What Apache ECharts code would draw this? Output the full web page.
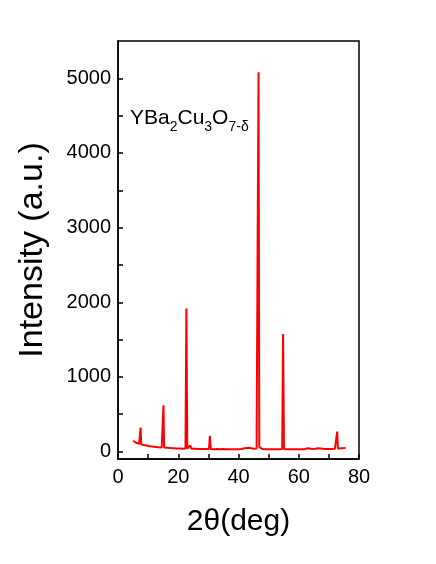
<!DOCTYPE html>
<html>
<head>
<meta charset="utf-8">
<script src="https://cdn.jsdelivr.net/npm/echarts@6/dist/echarts.min.js"></script>
<style>html,body{margin:0;padding:0;background:#fff}#c{width:436px;height:564px}</style>
</head>
<body>
<div id="c"></div>
<script>
const twoTheta = [5.0,5.5,6.0,6.5,7.0,7.3,7.5,7.7,8.5,9.5,10.5,11.5,12.0,12.5,13.5,14.5,14.9,15.1,15.3,16.5,17.5,18.5,19.5,20.5,21.5,22.4,22.7,23.0,23.6,24.0,24.3,25.0,26.0,27.0,28.0,29.0,30.2,30.5,30.8,32,33,34,35,36,37,38,39,40,41,42,42.5,43.5,44,45,46,46.4,46.65,46.9,47.3,48,49,50,51,52,53,54.5,54.8,55.1,55.6,56,57,58,59,60,61,62,63,63.5,64.5,65.5,66.5,67,68,69,70,71,72,72.5,72.75,73.0,73.5,74.5,75.5];
const intensity = [145,130,118,110,102,98,320,96,88,80,72,66,70,62,58,55,55,620,54,50,46,44,42,40,38,40,1915,40,42,80,42,36,38,34,35,33,34,210,34,32,33,31,33,31,32,30,32,31,34,45,38,50,40,38,40,60,5080,60,38,33,31,32,30,31,30,34,1575,34,30,31,30,31,30,31,30,32,45,36,34,36,45,42,36,33,35,34,36,40,268,40,42,44,46];
const xTicks = [0,20,40,60,80];
const xMinorTicks = [10,30,50,70];
const yTicks = [0,1000,2000,3000,4000,5000];
const yMinorTicks = [500,1500,2500,3500,4500];

const chart = echarts.init(document.getElementById('c'), null, {renderer:'canvas'});
const font = 'Liberation Sans, Arial, Helvetica, sans-serif';
chart.setOption({
  animation:false,
  grid:{left:118,right:77,top:41,bottom:105,show:true,borderColor:'#000',borderWidth:1.5,backgroundColor:'transparent'},
  xAxis:{type:'value',min:0,max:80,
    name:'2θ(deg)',nameLocation:'middle',nameGap:48,
    nameTextStyle:{fontSize:30,color:'#000',fontFamily:font},
    axisLine:{show:true,onZero:false,lineStyle:{color:'#000',width:1.5}},
    axisTick:{show:true,inside:true,length:5,customValues:xTicks.concat(xMinorTicks),lineStyle:{color:'#000',width:1.5}},
    axisLabel:{customValues:xTicks,fontSize:20,color:'#000',fontFamily:font,margin:8,formatter:v=>String(v)},
    splitLine:{show:false}},
  yAxis:{type:'value',min:-100,max:5500,
    name:'Intensity (a.u.)',nameLocation:'middle',nameGap:68,
    nameTextStyle:{fontSize:34,color:'#000',fontFamily:font},
    axisLine:{show:true,onZero:false,lineStyle:{color:'#000',width:1.5}},
    axisTick:{show:true,inside:true,length:5,customValues:yTicks.concat(yMinorTicks),lineStyle:{color:'#000',width:1.5}},
    axisLabel:{customValues:yTicks,fontSize:20,color:'#000',fontFamily:font,margin:7,formatter:v=>String(v)},
    splitLine:{show:false}},
  graphic:[{type:'text',left:130,top:108,style:{
    text:'{n|YBa}{s|2}{n|Cu}{s|3}{n|O}{s|7-δ}',
    rich:{
      n:{fontSize:21,fontFamily:font,fill:'#000',lineHeight:24,verticalAlign:'top'},
      s:{fontSize:14,fontFamily:font,fill:'#000',lineHeight:24,padding:[12,0,0,0],verticalAlign:'top'}
    }}}],
  series:[{type:'line',showSymbol:false,symbol:'none',
    lineStyle:{color:'#ff0000',width:2},
    data:twoTheta.map((t,i)=>[t,intensity[i]])}]
});
</script>
</body>
</html>
